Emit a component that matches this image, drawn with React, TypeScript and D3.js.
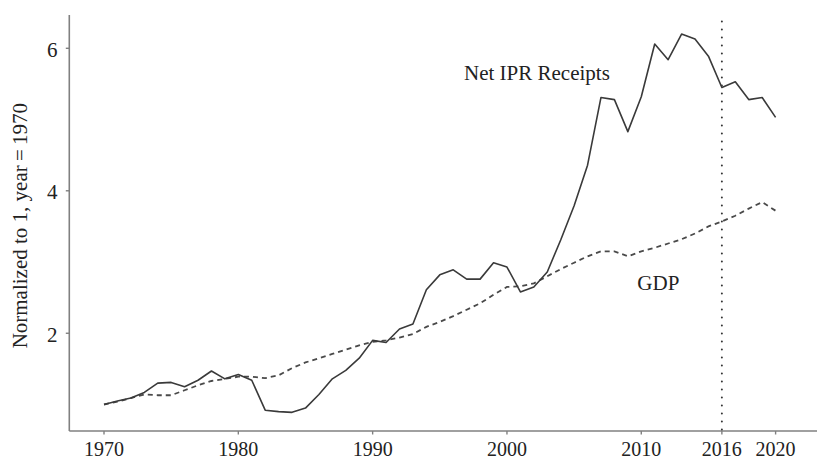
import React from "react";
import * as d3 from "d3";

const years: number[] = d3.range(1970, 2021);

const iprReceipts: number[] = [
  1.0, 1.05, 1.09, 1.17, 1.3, 1.31, 1.25, 1.34, 1.47, 1.36,
  1.42, 1.34, 0.92, 0.9, 0.89, 0.95, 1.14, 1.36, 1.48, 1.65,
  1.9, 1.87, 2.06, 2.13, 2.61, 2.82, 2.89, 2.76, 2.76, 2.99,
  2.93, 2.58, 2.65, 2.86, 3.31, 3.79, 4.36, 5.31, 5.28, 4.83,
  5.32, 6.06, 5.84, 6.2, 6.13, 5.89, 5.45, 5.53, 5.28, 5.31,
  5.03,
];

const gdp: number[] = [
  1.0, 1.04, 1.09, 1.14, 1.13, 1.13, 1.2, 1.27, 1.33, 1.36,
  1.39, 1.39, 1.37, 1.41, 1.51, 1.59, 1.65, 1.71, 1.77, 1.83,
  1.88, 1.9, 1.94, 1.99, 2.09, 2.16, 2.24, 2.33, 2.42, 2.54,
  2.65, 2.66, 2.7, 2.8, 2.9, 2.99, 3.08, 3.15, 3.15, 3.08,
  3.15, 3.2, 3.26, 3.32, 3.4, 3.5, 3.57, 3.65, 3.75, 3.84,
  3.72,
];

const xTicks: number[] = [1970, 1980, 1990, 2000, 2010, 2016, 2020];
const yTicks: number[] = [2, 4, 6];
const markerYear = 2016;
const yLabel = "Normalized to 1, year\u2009=\u20091970";
const iprLabel = "Net IPR Receipts";
const gdpLabel = "GDP";

const W = 817;
const H = 460;
const FONT = "'Liberation Serif', 'Times New Roman', 'DejaVu Serif', serif";

export default function App() {
  const x = d3.scaleLinear().domain([1970, 2020]).range([104, 775.6]);
  const y = d3.scaleLinear().domain([1, 6]).range([404.5, 48.3]);

  const axisX0 = 69.3;
  const axisY0 = 431;

  const line = d3
    .line<number>()
    .x((_, i) => x(years[i]))
    .y((d) => y(d))
    .curve(d3.curveLinear);

  return (
    <div style={{ position: "absolute", left: 0, top: 0 }}>
      <svg width={W} height={H} style={{ display: "block", background: "#fff" }}>
        {/* axes */}
        <line x1={axisX0} y1={15} x2={axisX0} y2={axisY0} stroke="#808080" strokeWidth={1.6} />
        <line x1={axisX0} y1={axisY0} x2={817} y2={axisY0} stroke="#808080" strokeWidth={1.6} />
        {yTicks.map((t) => (
          <g key={"y" + t}>
            <line x1={axisX0 - 3.5} x2={axisX0} y1={y(t)} y2={y(t)} stroke="#808080" strokeWidth={1.4} />
            <text
              x={57.5}
              y={y(t)}
              dy="0.4em"
              textAnchor="end"
              fontFamily={FONT}
              fontSize={21}
              fill="#222"
            >
              {t}
            </text>
          </g>
        ))}
        {xTicks.map((t) => (
          <g key={"x" + t}>
            <line x1={x(t)} x2={x(t)} y1={axisY0} y2={axisY0 + 3.5} stroke="#808080" strokeWidth={1.4} />
            <text
              x={x(t)}
              y={455.5}
              textAnchor="middle"
              fontFamily={FONT}
              fontSize={20}
              fill="#222"
            >
              {t}
            </text>
          </g>
        ))}
        <text
          transform="translate(26.7,225.7) rotate(-90)"
          textAnchor="middle"
          fontFamily={FONT}
          fontSize={21}
          fill="#222"
        >
          {yLabel}
        </text>

        {/* 2016 marker */}
        <line
          x1={x(markerYear)}
          x2={x(markerYear)}
          y1={21.5}
          y2={axisY0}
          stroke="#333"
          strokeWidth={2}
          strokeDasharray="0.1,7.9"
          strokeLinecap="round"
        />

        {/* series */}
        <path
          d={line(gdp) || ""}
          fill="none"
          stroke="#4a4a4a"
          strokeWidth={1.8}
          strokeDasharray="5,4"
        />
        <path
          d={line(iprReceipts) || ""}
          fill="none"
          stroke="#3a3a3a"
          strokeWidth={1.6}
          strokeLinejoin="round"
        />

        {/* labels */}
        <text x={464} y={80} fontFamily={FONT} fontSize={21} fill="#222">
          {iprLabel}
        </text>
        <text x={637.3} y={290} fontFamily={FONT} fontSize={21} fill="#222">
          {gdpLabel}
        </text>
      </svg>
    </div>
  );
}
